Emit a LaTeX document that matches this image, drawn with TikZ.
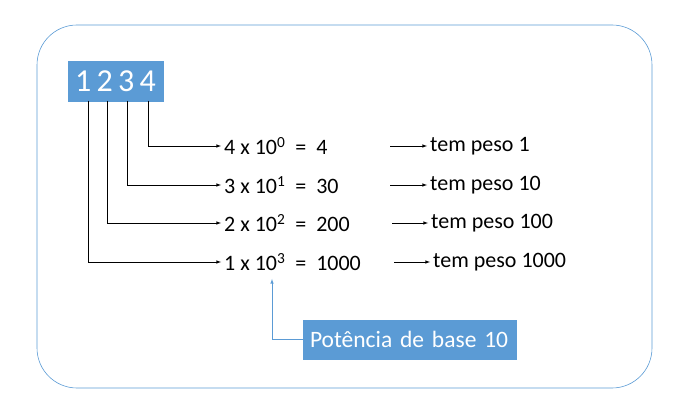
\documentclass[tikz,border=0pt]{standalone}
\usepackage{fontspec}
\setmainfont{Carlito}
\definecolor{bl}{HTML}{5B9BD5}
\begin{document}
\begin{tikzpicture}[x=1pt,y=-1pt,
  conn/.style={draw=black,-latex,line width=0.6pt,shorten >=3pt},
  eq/.style={anchor=west,font=\fontsize{22}{24}\selectfont,inner sep=0pt},
  bluebox/.style={fill=bl,draw=bl,text=white,inner sep=0pt}]
\useasboundingbox (0,0) rectangle (675,414);
\node[draw=bl,rounded corners=40pt,minimum width=615pt,minimum height=363pt,line width=0.6pt] (frame) at (344.5,206.5) {};
\node[bluebox,minimum width=95pt,minimum height=40pt,font=\fontsize{32}{34}\selectfont] (num) at (115.5,81) {1\,2\,3\,4};
\coordinate (d1) at (88,101); \coordinate (d2) at (107,101);
\coordinate (d3) at (127,101); \coordinate (d4) at (148,101);
\node[eq] (e4) at (224,146) {4 x 10\textsuperscript{0}\ \ =\ \ 4};
\node[eq] (e3) at (224,185) {3 x 10\textsuperscript{1}\ \ =\ \ 30};
\node[eq] (e2) at (224,223) {2 x 10\textsuperscript{2}\ \ =\ \ 200};
\node[eq] (e1) at (224,262) {1 x 10\textsuperscript{3}\ \ =\ \ 1000};
\draw[conn] (d4) |- (e4.west);
\draw[conn] (d3) |- (e3.west);
\draw[conn] (d2) |- (e2.west);
\draw[conn] (d1) |- (e1.west);
\node[eq] (t4) at (430,146) {tem peso 1};
\node[eq] (t3) at (430,185) {tem peso 10};
\node[eq] (t2) at (431,223) {tem peso 100};
\node[eq] (t1) at (433,262) {tem peso 1000};
\coordinate (a4) at (390,146); \coordinate (a3) at (390,185);
\coordinate (a2) at (392,223); \coordinate (a1) at (394,262);
\draw[conn] (a4) -- (t4.west);
\draw[conn] (a3) -- (t3.west);
\draw[conn] (a2) -- (t2.west);
\draw[conn] (a1) -- (t1.west);
\node[bluebox,minimum width=213pt,minimum height=39pt,font=\fontsize{23.5}{26}\selectfont,text width=199pt,align=left] (pb) at (409.5,339.5) {Potência de base 10};
\coordinate (up) at (272,279);
\draw[draw=bl,-latex,line width=0.6pt] (pb.west) -| (up);
\end{tikzpicture}
\end{document}
